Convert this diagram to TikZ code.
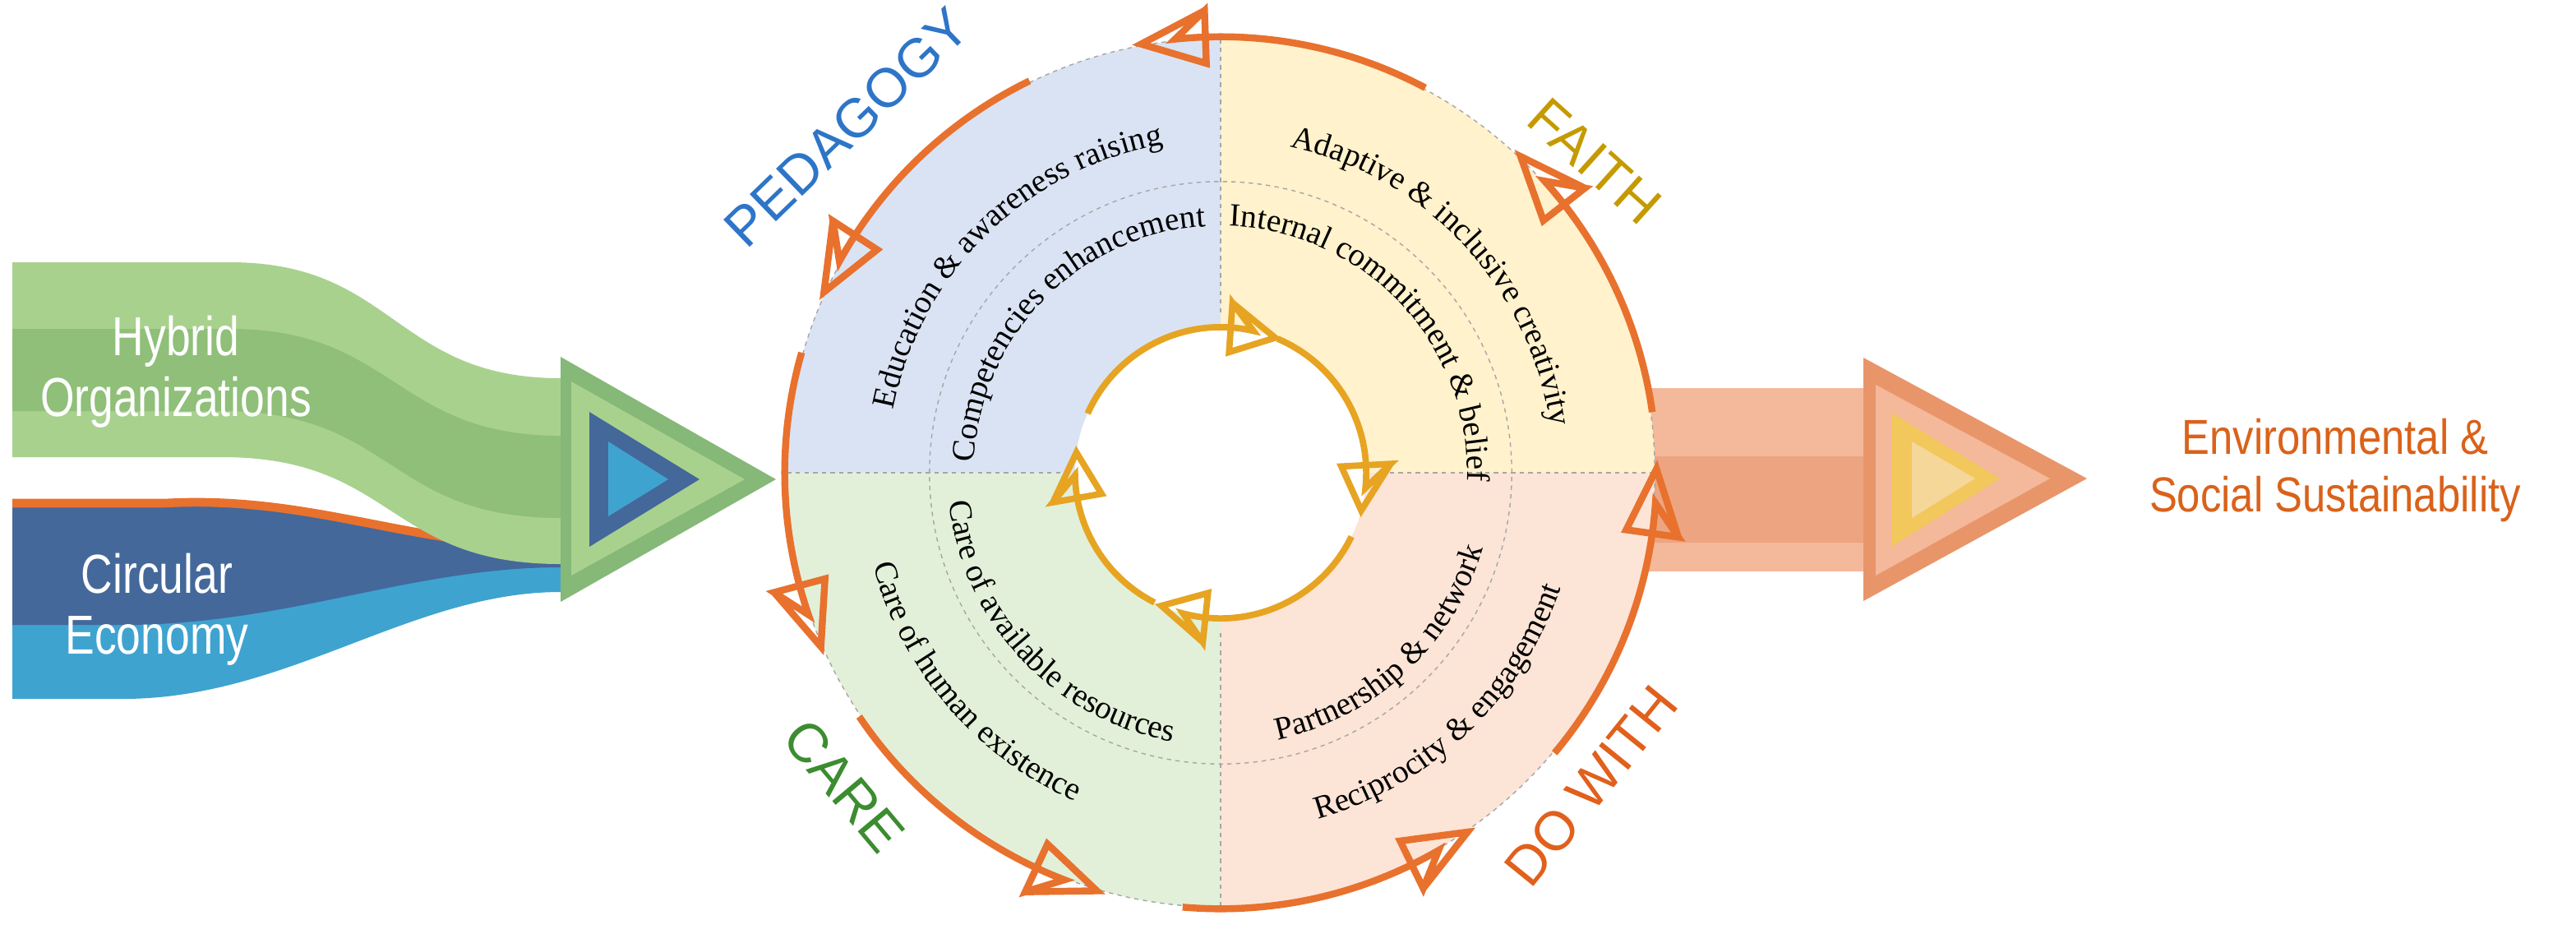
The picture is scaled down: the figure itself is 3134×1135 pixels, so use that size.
\documentclass[tikz,border=0pt]{standalone}
\usepackage{fontspec}
\setmainfont{Liberation Serif}
\newfontfamily\sansf{Liberation Sans}
\usetikzlibrary{decorations.text}
\definecolor{qblue}{HTML}{DAE3F3}
\definecolor{qyel}{HTML}{FFF2CC}
\definecolor{qgreen}{HTML}{E2F0D9}
\definecolor{qpeach}{HTML}{FCE4D6}
\definecolor{oarrc}{HTML}{E8712E}
\definecolor{yarrc}{HTML}{E6A422}
\definecolor{gA}{HTML}{A9D18E}
\definecolor{gB}{HTML}{8FBF78}
\definecolor{gC}{HTML}{86B878}
\definecolor{bA}{HTML}{44689A}
\definecolor{bB}{HTML}{3FA3D0}
\definecolor{orA}{HTML}{E9956A}
\definecolor{orB}{HTML}{F4B89A}
\definecolor{orC}{HTML}{F2C75C}
\definecolor{orD}{HTML}{F6D79A}
\definecolor{pedc}{HTML}{2E75C8}
\definecolor{faic}{HTML}{C49A00}
\definecolor{carc}{HTML}{3C8C30}
\definecolor{doc}{HTML}{E0601C}
\definecolor{envc}{HTML}{D9621A}
\begin{document}
\begin{tikzpicture}[x=0.01cm,y=-0.01cm,
  oarr/.style={draw=oarrc,line width=2.4pt,line join=miter},
  yarr/.style={draw=yarrc,line width=2.2pt,line join=miter},
  sep/.style={draw=gray!70,line width=0.4pt,dash pattern=on 1.5pt off 1.5pt},
  big/.style={font=\sansf\fontsize{19}{19}\selectfont},
  side/.style={font=\sansf\fontsize{19}{21}\selectfont,align=center,xscale=0.8},
  ring/.style={decorate,decoration={text along path,text align=center,text={|\fontsize{11.2}{12}\selectfont|#1}}}]
\useasboundingbox (0,0) rectangle (3134,1135);
\coordinate (C) at (1485,575);
% ---- left bands
\fill[bB] (15,610) -- (200,610) .. controls (380,600) and (500,663) .. (682,663) -- (682,720) .. controls (500,720) and (350,850) .. (150,850) -- (15,850) -- cycle;
\fill[bA] (15,615) -- (200,615) .. controls (380,605) and (500,663) .. (682,663) -- (682,690) .. controls (500,690) and (350,760) .. (150,760) -- (15,760) -- cycle;
\draw[oarrc,line width=3pt] (15,612) -- (200,612) .. controls (380,602) and (500,665) .. (682,665);
\fill[gA] (15,319) -- (280,319) .. controls (480,319) and (480,460) .. (682,460) -- (682,686) .. controls (470,686) and (480,556) .. (270,556) -- (15,556) -- cycle;
\fill[gB] (15,400) -- (280,400) .. controls (480,400) and (480,530) .. (682,530) -- (682,630) .. controls (470,630) and (480,500) .. (270,500) -- (15,500) -- cycle;
\node[side,text=white] (ho) at (214,452) {Hybrid\\Organizations};
\node[side,text=white] (ce) at (191,741) {Circular\\Economy};
% ---- left triangle
\fill[gC] (682,434) -- (682,732) -- (944,583) -- cycle;
\fill[gA] (695,464) -- (695,700) -- (906,583) -- cycle;
\fill[bA] (717,501) -- (717,665) -- (851,583) -- cycle;
\fill[bB] (740,537) -- (740,628) -- (813,583) -- cycle;
% ---- right band
\fill[orB] (1985,472) rectangle (2267,695);
\fill[orA!85] (1985,555) rectangle (2267,660);
\fill[orA] (2267,435) -- (2267,731) -- (2539,582) -- cycle;
\fill[orB] (2282,468) -- (2282,700) -- (2494,582) -- cycle;
\fill[orC] (2301,502) -- (2301,665) -- (2433,582) -- cycle;
\fill[orD] (2326,537) -- (2326,630) -- (2403,582) -- cycle;
\node[font=\sansf\fontsize{17}{20}\selectfont,align=center,text=envc,xscale=0.85] (env) at (2841,572) {Environmental \&\\Social Sustainability};
% ---- circle (y-up local frame)
\begin{scope}[shift={(C)},y=0.01cm]
\fill[qblue] (0,0) -- (90:5.28cm) arc[start angle=90,end angle=180,radius=5.28cm] -- cycle;
\fill[qyel] (0,0) -- (0:5.28cm) arc[start angle=0,end angle=90,radius=5.28cm] -- cycle;
\fill[qgreen] (0,0) -- (180:5.28cm) arc[start angle=180,end angle=270,radius=5.28cm] -- cycle;
\fill[qpeach] (0,0) -- (270:5.28cm) arc[start angle=270,end angle=360,radius=5.28cm] -- cycle;
\fill[white] (0,0) circle[radius=1.77cm];
\draw[sep] (0,0) circle[radius=5.28cm];
\draw[sep] (0,0) circle[radius=3.54cm];
\foreach \a in {0,90,180,270}{\draw[sep] (\a:1.95cm) -- (\a:5.28cm);}
% ring texts
\path[ring={Education {\&} awareness raising}] (174:4.05cm) arc[start angle=174,end angle=95,radius=4.05cm];
\path[ring={Competencies enhancement}] (181:3.0cm) arc[start angle=181,end angle=90,radius=3.0cm];
\path[ring={Internal commitment {\&} belief}] (90:3.0cm) arc[start angle=90,end angle=-4,radius=3.0cm];
\path[ring={Adaptive {\&} inclusive creativity}] (84:4.05cm) arc[start angle=84,end angle=2,radius=4.05cm];
\path[ring={Care of available resources}] (180:3.32cm) arc[start angle=180,end angle=266,radius=3.32cm];
\path[ring={Care of human existence}] (190:4.37cm) arc[start angle=190,end angle=251,radius=4.37cm];
\path[ring={Partnership {\&} network}] (275:3.32cm) arc[start angle=275,end angle=351,radius=3.32cm];
\path[ring={Reciprocity {\&} engagement}] (281:4.37cm) arc[start angle=281,end angle=346,radius=4.37cm];
% outer arrows (ccw)
\foreach \a/\b in {62/96,116/151,164/199,214/249,265/300,320/356,8/42}{
  \pgfmathsetmacro\bb{\b-4}
  \pgfmathsetmacro\tp{\b+4.5}
  \draw[oarr] (\a:5.3cm) arc[start angle=\a,end angle=\b,radius=5.3cm]
    -- (\bb:5.62cm) -- (\bb:4.98cm) -- (\tp:5.3cm) -- (\bb:5.62cm);
}
% inner arrows (cw)
\foreach \a/\b in {156/77,67/-6,-26/-105,-117/-179}{
  \pgfmathsetmacro\bb{\b+9}
  \pgfmathsetmacro\tp{\b-9}
  \draw[yarr] (\a:1.77cm) arc[start angle=\a,end angle=\b,radius=1.77cm]
    -- (\bb:2.07cm) -- (\bb:1.47cm) -- (\tp:1.77cm) -- (\bb:2.07cm);
}
\end{scope}
% ---- labels
\node[big,text=pedc,rotate=44] (ped) at (1030,155) {PEDAGOGY};
\node[big,text=faic,rotate=-42] (fai) at (1940,196) {FAITH};
\node[big,text=carc,rotate=-50] (car) at (1027,956) {CARE};
\node[big,text=doc,rotate=51] (dow) at (1936,956) {DO WITH};
\end{tikzpicture}
\end{document}
